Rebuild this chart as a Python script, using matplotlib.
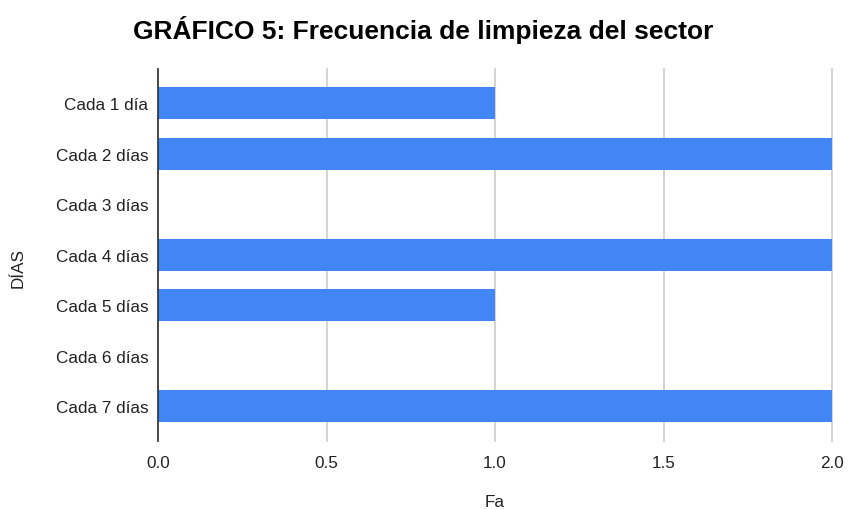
import matplotlib
matplotlib.use("Agg")
import matplotlib.pyplot as plt

categories = ["Cada 1 día", "Cada 2 días", "Cada 3 días", "Cada 4 días",
              "Cada 5 días", "Cada 6 días", "Cada 7 días"]
values = [1, 2, 0, 2, 1, 0, 2]
xticks = [0.0, 0.5, 1.0, 1.5, 2.0]
xtick_labels = ["0.0", "0.5", "1.0", "1.5", "2.0"]

plt.rcParams['font.family'] = ['Liberation Sans', 'DejaVu Sans']

W, H = 848, 510
fig = plt.figure(figsize=(W / 100, H / 100), dpi=100)
left, right, top, bottom = 158, 832, 70, 442
ax = fig.add_axes([left / W, 1 - bottom / H, (right - left) / W, (bottom - top) / H])

ypos = list(range(len(categories)))
ax.barh(ypos, values, height=0.634, color="#4285F4", zorder=3)

ax.set_xlim(0, 2)
ax.set_ylim(6.69, -0.673)
ax.set_yticks(ypos)
ax.set_yticklabels(categories, fontsize=12.3, color="#222222")
ax.set_xticks(xticks)
ax.set_xticklabels(xtick_labels, fontsize=12.3, color="#222222")
ax.tick_params(axis='y', length=0, pad=7)
ax.tick_params(axis='x', length=0, pad=10)

ax.grid(axis='x', color="#cccccc", linewidth=1.2, zorder=0)
for gl in ax.get_xgridlines():
    gl.set_clip_on(False)
for s in ["top", "right", "bottom"]:
    ax.spines[s].set_visible(False)
ax.spines["left"].set_color("#333333")
ax.spines["left"].set_linewidth(1.2)
ax.spines["left"].set_zorder(4)

fig.text(423 / W, 1 - 30 / H, "GRÁFICO 5: Frecuencia de limpieza del sector",
         ha="center", va="center", fontsize=19, fontweight="bold", color="#000000")
fig.text(495 / W, 1 - 503 / H, "Fa", ha="center", va="center", fontsize=12.3, color="#222222")
fig.text(18 / W, 1 - 268 / H, "DÍAS", ha="center", va="center", rotation=90,
         fontsize=12.3, color="#222222")

fig.savefig("out.png", dpi=100)
